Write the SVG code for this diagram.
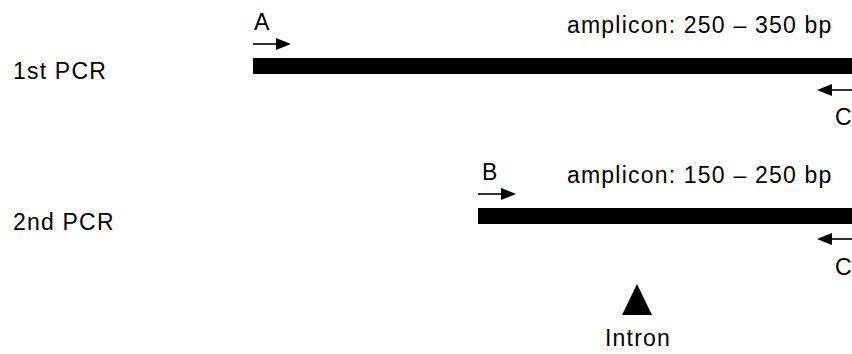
<svg xmlns="http://www.w3.org/2000/svg" width="852" height="354" viewBox="0 0 852 354">
  <style>
    text { font-family: "Liberation Sans", Arial, sans-serif; font-size: 23px; letter-spacing: 1.2px; fill: #000; }
    .bar { fill: #000; }
    .primer { stroke: #000; stroke-width: 1.6; fill: none; }
    .head { fill: #000; }
  </style>
  <rect width="852" height="354" fill="#fff"/>

  <g id="row1-label"><text x="13" y="79">1st PCR</text></g>
  <g id="row2-label"><text x="13" y="230">2nd PCR</text></g>

  <g id="amplicon1">
    <rect class="bar" x="253" y="58" width="599" height="16"/>
    <text x="567" y="33">amplicon: 250 – 350 bp</text>
  </g>
  <g id="amplicon2">
    <rect class="bar" x="478" y="208" width="374" height="16"/>
    <text x="567" y="183">amplicon: 150 – 250 bp</text>
  </g>

  <g id="connectors">
    <!-- primer A, forward -->
    <line class="primer" x1="253" y1="44" x2="280" y2="44"/>
    <polygon class="head" points="291,44 276,38 276,50"/>
    <!-- primer C, reverse (1st PCR) -->
    <line class="primer" x1="828" y1="90" x2="852" y2="90"/>
    <polygon class="head" points="817,90 832,84 832,96"/>
    <!-- primer B, forward -->
    <line class="primer" x1="478" y1="194" x2="505" y2="194"/>
    <polygon class="head" points="516,194 501,188 501,200"/>
    <!-- primer C, reverse (2nd PCR) -->
    <line class="primer" x1="828" y1="239" x2="852" y2="239"/>
    <polygon class="head" points="817,239 832,233 832,245"/>
  </g>

  <g id="primer-A"><text x="254" y="30">A</text></g>
  <g id="primer-B"><text x="482" y="180">B</text></g>
  <g id="primer-C1"><text x="835" y="125">C</text></g>
  <g id="primer-C2"><text x="835" y="275">C</text></g>

  <g id="intron">
    <polygon class="head" points="637,284 652,315 622,315"/>
    <text x="605" y="346">Intron</text>
  </g>
</svg>
